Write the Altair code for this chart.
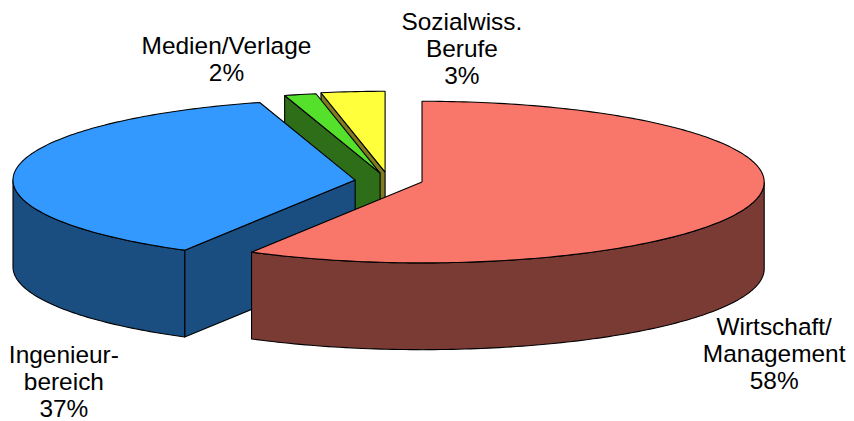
import math
import altair as alt
import pandas as pd

# Slice shares (percent of the full circle)
categories = ["Wirtschaft/Management", "Ingenieurbereich", "Medien/Verlage", "Sozialwiss. Berufe"]
shares = [58.3, 37.2, 1.5, 3.0]
top_colors = ["#F8766A", "#3399FF", "#55E02C", "#FFFF3C"]
side_colors = ["#7A3B35", "#1A4E80", "#2E6E18", "#807A20"]
# Displaced slice centres in the 3D view
centres = [(423, 182), (356, 180), (381, 173), (386, 172)]

label_lines = [
    ["Wirtschaft/", "Management", "58%"],
    ["Ingenieur-", "bereich", "37%"],
    ["Medien/Verlage", "2%"],
    ["Sozialwiss.", "Berufe", "3%"],
]
label_anchor = [(776, 328), (64, 356), (227, 47), (463, 23)]
LINE_GAP = 27

RX, RY, DEPTH = 343, 81, 87
W, H = 838, 413
X_DOMAIN = [8, 8 + W]
Y_DOMAIN = [8 + H, 8]

x_enc = alt.X("x:Q", scale=alt.Scale(domain=X_DOMAIN), axis=None)
y_enc = alt.Y("y:Q", scale=alt.Scale(domain=Y_DOMAIN), axis=None)


def rim_pts(c, a, b, drop=0.0):
    # angle measured clockwise from the back of the ellipse
    n = max(2, int(abs(b - a)) + 1)
    return [
        (
            c[0] + RX * math.sin(math.radians(a + (b - a) * i / n)),
            c[1] - RY * math.cos(math.radians(a + (b - a) * i / n)) + drop,
        )
        for i in range(n + 1)
    ]


def poly(points, color):
    pts = list(points) + [points[0]]
    df = pd.DataFrame({"x": [p[0] for p in pts], "y": [p[1] for p in pts], "i": range(len(pts))})
    return (
        alt.Chart(df)
        .mark_line(fill=color, stroke="black", strokeWidth=1.1, strokeJoin="round", clip=False)
        .encode(x=x_enc, y=y_enc, order="i:Q")
    )


# start and end angles from the shares
starts, cum = [], 0.0
for s in shares:
    starts.append(cum)
    cum += s * 3.6
ends = starts[1:] + [360.0]

layers = []
for idx in [3, 2, 1, 0]:
    a, b, c = starts[idx], ends[idx], centres[idx]
    top_col, side_col = top_colors[idx], side_colors[idx]
    if idx in (1, 2, 3):
        p = rim_pts(c, a, a)[0]
        layers.append(poly([p, c, (c[0], c[1] + DEPTH), (p[0], p[1] + DEPTH)], side_col))
    if idx == 1:
        w = rim_pts(c, a, 270.0)
        layers.append(poly(w + [(x, y + DEPTH) for x, y in reversed(w)], side_col))
    if idx == 0:
        w = rim_pts(c, 90.0, b)
        layers.append(poly(w + [(x, y + DEPTH) for x, y in reversed(w)], side_col))
    layers.append(poly([c] + rim_pts(c, a, b), top_col))

rows = []
for lines, (ax, ay) in zip(label_lines, label_anchor):
    for k, line in enumerate(lines):
        rows.append({"x": ax, "y": ay + k * LINE_GAP, "t": line})
labels = (
    alt.Chart(pd.DataFrame(rows))
    .mark_text(font="Liberation Sans", fontSize=24.5, color="black", align="center", baseline="middle", clip=False)
    .encode(x=x_enc, y=y_enc, text="t:N")
)

chart = (
    alt.layer(*layers, labels)
    .properties(width=W, height=H, padding=0, background="white")
    .configure_view(stroke=None)
)
chart.save("out.html", embed_options={"renderer": "svg", "actions": False})
